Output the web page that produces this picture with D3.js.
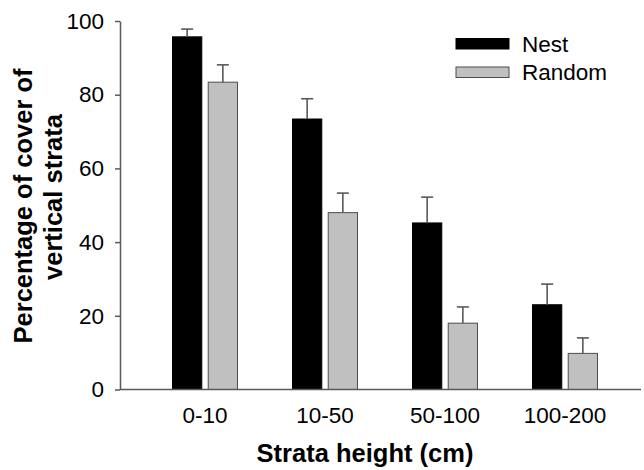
<!DOCTYPE html>
<html>
<head>
<meta charset="utf-8">
<script src="https://cdn.jsdelivr.net/npm/d3@7"></script>
<style>
  body { margin: 0; background: #fff; }
  svg { display: block; }
  .tick text { font-family: "Liberation Sans", Arial, sans-serif; }
</style>
</head>
<body>
<svg id="barchart" width="644" height="470"></svg>
<script>
(function () {
  //data
  var categories = ["0-10", "10-50", "50-100", "100-200"];
  var series = ["Nest", "Random"];
  var nestValues = [95.7, 73.4, 45.2, 23.0];
  var nestErrors = [2.1, 5.5, 7.0, 5.6];
  var randomValues = [83.4, 48.0, 18.0, 9.8];
  var randomErrors = [4.7, 5.3, 4.4, 4.2];
  var yTicks = [0, 20, 40, 60, 80, 100];

  var colors = { Nest: "#000000", Random: "#c0c0c0" };
  var axisColor = "#595959";

  var data = [];
  categories.forEach(function (c, i) {
    data.push({ cat: c, series: "Nest", value: nestValues[i], err: nestErrors[i] });
    data.push({ cat: c, series: "Random", value: randomValues[i], err: randomErrors[i] });
  });

  var svg = d3.select("#barchart");

  //scales
  var x0 = d3
    .scaleBand()
    .domain(categories)
    .range([145, 625])
    .paddingInner(0.4583)
    .paddingOuter(0.2292);

  var x1 = d3
    .scaleBand()
    .domain(series)
    .range([0, x0.bandwidth()])
    .paddingInner(0.18);

  var y = d3.scaleLinear().domain([0, 100]).range([389.5, 21]);

  // bars
  svg
    .append("g")
    .selectAll("rect")
    .data(data)
    .join("rect")
    .attr("x", (d) => x0(d.cat) + x1(d.series))
    .attr("y", (d) => y(d.value))
    .attr("width", x1.bandwidth())
    .attr("height", (d) => y(0) - y(d.value))
    .attr("fill", (d) => colors[d.series])
    .attr("stroke", (d) => (d.series == "Nest" ? "#000" : "#4d4d4d"))
    .attr("stroke-width", 1);

  // error bars (upper only)
  var err = svg.append("g").attr("stroke", axisColor).attr("stroke-width", 1.6);
  err
    .selectAll("line.v")
    .data(data)
    .join("line")
    .attr("class", "v")
    .attr("x1", (d) => x0(d.cat) + x1(d.series) + x1.bandwidth() / 2)
    .attr("x2", (d) => x0(d.cat) + x1(d.series) + x1.bandwidth() / 2)
    .attr("y1", (d) => y(d.value))
    .attr("y2", (d) => y(d.value + d.err));
  err
    .selectAll("line.cap")
    .data(data)
    .join("line")
    .attr("class", "cap")
    .attr("x1", (d) => x0(d.cat) + x1(d.series) + x1.bandwidth() / 2 - 6)
    .attr("x2", (d) => x0(d.cat) + x1(d.series) + x1.bandwidth() / 2 + 6)
    .attr("y1", (d) => y(d.value + d.err))
    .attr("y2", (d) => y(d.value + d.err));

  // ===========   axes ============ //
  var yAxis = svg
    .append("g")
    .attr("transform", "translate(120,0)")
    .call(d3.axisLeft(y).tickValues(yTicks).tickSize(5).tickSizeOuter(0).tickPadding(11));
  yAxis.selectAll("path, line").attr("stroke", axisColor).attr("stroke-width", 1.5);
  yAxis.selectAll("text").attr("font-size", 22.5).attr("fill", "#000");

  var xAxis = svg
    .append("g")
    .attr("transform", "translate(0," + y(0) + ")")
    .call(d3.axisBottom(x0).tickSize(0).tickPadding(18))
    .call((g) => g.select(".domain").remove());
  xAxis
    .selectAll("text")
    .attr("font-family", "'Open Sans', sans-serif")
    .attr("font-size", 22.5)
    .attr("fill", "#000");

  //baseline runs past the last group to the edge
  svg
    .append("line")
    .attr("x1", 120)
    .attr("x2", 641)
    .attr("y1", y(0))
    .attr("y2", y(0))
    .attr("stroke", axisColor)
    .attr("stroke-width", 1.5);

  // axis titles
  svg
    .append("text")
    .attr("x", 365)
    .attr("y", 462)
    .attr("text-anchor", "middle")
    .attr("font-family", "'Liberation Sans', Arial, sans-serif")
    .attr("font-weight", "bold")
    .attr("font-size", 25.5)
    .text("Strata height (cm)");

  svg
    .append("text")
    .attr("text-anchor", "middle")
    .attr("font-family", "'Liberation Sans', Arial, sans-serif")
    .attr("font-weight", "bold")
    .attr("font-size", 25.5)
    .attr("transform", "translate(31.5,206) rotate(-90)")
    .text("Percentage of cover of");

  svg
    .append("text")
    .attr("text-anchor", "middle")
    .attr("font-family", "'Liberation Sans', Arial, sans-serif")
    .attr("font-weight", "bold")
    .attr("font-size", 25.5)
    .attr("transform", "translate(61.5,197) rotate(-90)")
    .text("vertical strata");

  // legend
  var legend = svg
    .append("g")
    .selectAll("g")
    .data(series)
    .join("g")
    .attr("transform", (d, i) => "translate(456," + (38.5 + i * 28.5) + ")");
  legend
    .append("rect")
    .attr("width", 53)
    .attr("height", 10.5)
    .attr("fill", (d) => colors[d])
    .attr("stroke", (d) => (d == "Nest" ? "#000" : "#4d4d4d"))
    .attr("stroke-width", 1);
  legend
    .append("text")
    .attr("x", 66)
    .attr("y", 13)
    .attr("font-family", "'Liberation Sans', Arial, sans-serif")
    .attr("font-size", 22.5)
    .text((d) => d);
})();
</script>
</body>
</html>
